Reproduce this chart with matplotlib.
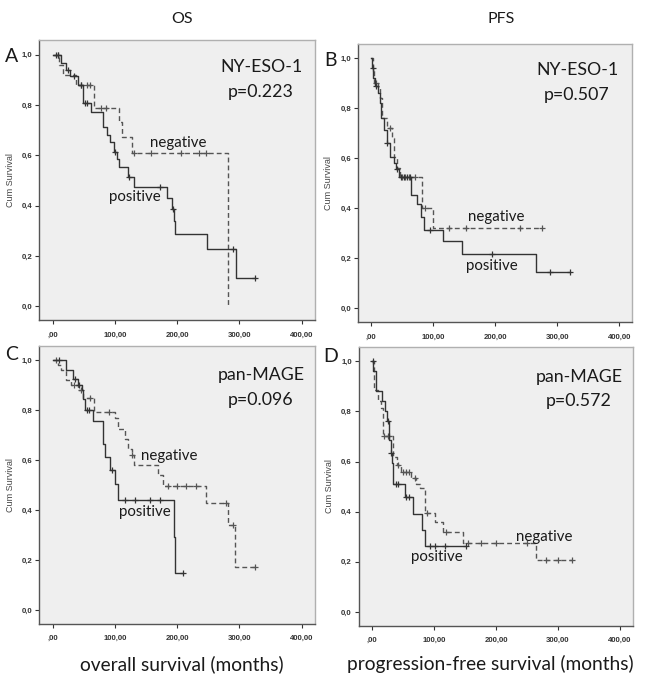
import numpy as np
import matplotlib
matplotlib.use("Agg")
import matplotlib.pyplot as plt

# ---------------- data ----------------
# Panel A : OS, NY-ESO-1
a_pos_t = [0, 14, 22, 28, 40, 49, 62, 81, 87, 92, 99, 103, 106, 121, 131, 183, 191, 195, 197, 248, 294, 325]
a_pos_s = [1.0, 0.967, 0.94, 0.913, 0.88, 0.807, 0.773, 0.714, 0.681, 0.654, 0.614, 0.585, 0.555, 0.515, 0.475, 0.432, 0.387, 0.340, 0.286, 0.227, 0.111, 0.111]
a_pos_c = [5, 8, 25, 35, 45, 52, 55, 100, 122, 172, 193, 290, 325]
a_neg_t = [0, 10, 17, 38, 67, 107, 111, 127, 282]
a_neg_s = [1.0, 0.958, 0.919, 0.88, 0.787, 0.734, 0.672, 0.608, 0.0]
a_neg_c = [8, 45, 55, 60, 78, 85, 130, 158, 206, 235, 246]

# Panel B : PFS, NY-ESO-1
b_pos_t = [0, 1, 3, 6, 11, 14, 16, 20, 25, 30, 37, 40, 45, 64, 74, 80, 85, 115, 146, 265, 321]
b_pos_s = [1.0, 0.96, 0.92, 0.89, 0.86, 0.82, 0.76, 0.713, 0.66, 0.606, 0.58, 0.556, 0.524, 0.453, 0.417, 0.366, 0.313, 0.269, 0.216, 0.145, 0.145]
b_pos_c = [2, 8, 26, 41, 48, 52, 58, 62, 95, 194, 289, 321]
b_neg_t = [0, 2, 5, 10, 14, 17, 25, 33, 36, 41, 47, 82, 100, 275]
b_neg_s = [1.0, 0.95, 0.90, 0.88, 0.84, 0.76, 0.72, 0.68, 0.606, 0.56, 0.524, 0.40, 0.32, 0.32]
b_neg_c = [8, 30, 50, 55, 60, 70, 87, 125, 152, 240, 275]

# Panel C : OS, pan-MAGE
c_pos_t = [0, 22, 33, 40, 47, 49, 52, 64, 81, 84, 92, 100, 105, 195, 197, 209]
c_pos_s = [1.0, 0.963, 0.927, 0.90, 0.88, 0.847, 0.803, 0.757, 0.667, 0.613, 0.56, 0.507, 0.44, 0.293, 0.147, 0.147]
c_pos_c = [10, 36, 42, 55, 58, 95, 116, 132, 156, 172, 209]
c_neg_t = [0, 9, 14, 22, 30, 41, 49, 67, 100, 105, 116, 121, 127, 130, 170, 178, 247, 281, 293, 325]
c_neg_s = [1.0, 0.98, 0.96, 0.92, 0.90, 0.88, 0.85, 0.793, 0.771, 0.727, 0.687, 0.647, 0.62, 0.58, 0.54, 0.497, 0.427, 0.34, 0.171, 0.171]
c_neg_c = [5, 35, 45, 60, 90, 127, 185, 200, 215, 230, 278, 290, 325]

# Panel D : PFS, pan-MAGE
d_pos_t = [0, 2, 7, 16, 21, 24, 27, 30, 33, 34, 53, 66, 81, 85, 152]
d_pos_s = [1.0, 0.96, 0.88, 0.84, 0.80, 0.76, 0.687, 0.634, 0.594, 0.512, 0.459, 0.392, 0.328, 0.262, 0.262]
d_pos_c = [1, 26, 31, 38, 42, 55, 60, 93, 101, 117, 152]
d_neg_t = [0, 3, 10, 15, 18, 34, 40, 47, 63, 71, 77, 85, 101, 114, 146, 264, 322]
d_neg_s = [1.0, 0.887, 0.84, 0.813, 0.70, 0.62, 0.587, 0.56, 0.534, 0.51, 0.494, 0.395, 0.357, 0.317, 0.275, 0.206, 0.206]
d_neg_c = [20, 25, 28, 42, 50, 55, 60, 70, 88, 120, 155, 175, 200, 250, 280, 300, 322]

markers = ["NY-ESO-1", "NY-ESO-1", "pan-MAGE", "pan-MAGE"]
pvalues = ["p=0.223", "p=0.507", "p=0.096", "p=0.572"]
letters = ["A", "B", "C", "D"]
col_titles = ["OS", "PFS"]
x_labels = ["overall survival (months)", "progression-free survival (months)"]
x_ticks = [0, 100, 200, 300, 400]
x_ticklabels = [",00", "100,00", "200,00", "300,00", "400,00"]
y_ticks = [0.0, 0.2, 0.4, 0.6, 0.8, 1.0]
y_ticklabels = ["0,0", "0,2", "0,4", "0,6", "0,8", "1,0"]

panels = [
    (a_pos_t, a_pos_s, a_pos_c, a_neg_t, a_neg_s, a_neg_c),
    (b_pos_t, b_pos_s, b_pos_c, b_neg_t, b_neg_s, b_neg_c),
    (c_pos_t, c_pos_s, c_pos_c, c_neg_t, c_neg_s, c_neg_c),
    (d_pos_t, d_pos_s, d_pos_c, d_neg_t, d_neg_s, d_neg_c),
]

# ---------------- layout ----------------
W, H = 645, 683
fig = plt.figure(figsize=(W / 100, H / 100), dpi=100)
fig.patch.set_facecolor("white")

def box(x0, y0, x1, y1):
    return [x0 / W, 1 - y1 / H, (x1 - x0) / W, (y1 - y0) / H]

rects = [box(39.3, 40, 315, 320.3), box(358, 43.5, 632, 322.3),
         box(39.3, 346, 315, 624), box(358.7, 346.7, 632.7, 626)]
xlims = [(-21.5, 421.5), (-21.5, 420.5), (-21.5, 421.5), (-21.5, 420.5)]

# text positions (px)
mk_pos = [(261, 67), (577, 70), (261, 375), (579, 377)]
p_pos = [(261, 92), (577, 95), (261, 400), (579, 401)]
neg_pos = [(178, 143), (496, 217), (169, 456), (544, 537)]
pos_pos = [(135, 197), (492, 266), (145, 512), (437, 557)]
let_pos = [(12, 57), (330, 60), (12, 354), (331, 356)]

def surv_at(t, s, c):
    t = np.asarray(t, float)
    s = np.asarray(s, float)
    idx = np.searchsorted(t, np.asarray(c, float), side="right") - 1
    return s[np.clip(idx, 0, len(s) - 1)]

LBL = "Lato"
TXT = "#1a1a1a"
for i, (rect, data) in enumerate(zip(rects, panels)):
    ax = fig.add_axes(rect)
    ax.set_facecolor("#efefef")
    pt, ps, pc, nt, ns, nc = data
    ax.step(nt, ns, where="post", color="#555555", lw=1.0, ls=(0, (3.5, 2.2)))
    ax.plot(nc, surv_at(nt, ns, nc), ls="none", marker="+", ms=4, mew=0.9, color="#555555")
    ax.step(pt, ps, where="post", color="#333333", lw=1.0)
    ax.plot(pc, surv_at(pt, ps, pc), ls="none", marker="+", ms=4, mew=0.9, color="#333333")
    ax.set_xlim(*xlims[i])
    ax.set_ylim(-0.056, 1.058)
    ax.set_xticks(x_ticks)
    ax.set_xticklabels(x_ticklabels)
    ax.set_yticks(y_ticks)
    ax.set_yticklabels(y_ticklabels)
    ax.tick_params(axis="both", labelsize=5.6, length=3, width=0.8, color="#333333", pad=2)
    for lab in ax.get_xticklabels() + ax.get_yticklabels():
        lab.set_fontweight("bold")
        lab.set_color("#333333")
        lab.set_family("Liberation Sans")
    ax.tick_params(axis="x", pad=5)
    for side in ["left", "bottom"]:
        ax.spines[side].set_color("#555555")
        ax.spines[side].set_linewidth(1.0)
    for side in ["top", "right"]:
        ax.spines[side].set_color("#b0b0b0")
        ax.spines[side].set_linewidth(1.0)
    ax.set_ylabel("Cum Survival", fontsize=6.5, family="Liberation Sans", color="#444444", labelpad=5)

    fig.text(mk_pos[i][0] / W, 1 - mk_pos[i][1] / H, markers[i], ha="center", va="center",
             fontsize=12.8, family=LBL, color=TXT)
    fig.text(p_pos[i][0] / W, 1 - p_pos[i][1] / H, pvalues[i], ha="center", va="center",
             fontsize=12.8, family=LBL, color=TXT)
    fig.text(neg_pos[i][0] / W, 1 - neg_pos[i][1] / H, "negative", ha="center", va="center",
             fontsize=10.8, family=LBL, color=TXT)
    fig.text(pos_pos[i][0] / W, 1 - pos_pos[i][1] / H, "positive", ha="center", va="center",
             fontsize=10.8, family=LBL, color=TXT)
    fig.text(let_pos[i][0] / W, 1 - let_pos[i][1] / H, letters[i], ha="center", va="center",
             fontsize=14, family=LBL, color=TXT)

fig.text(182 / W, 1 - 19 / H, col_titles[0], ha="center", va="center", fontsize=11.5, family=LBL, color=TXT)
fig.text(501 / W, 1 - 19 / H, col_titles[1], ha="center", va="center", fontsize=11.5, family=LBL, color=TXT)
fig.text(182 / W, 1 - 664 / H, x_labels[0], ha="center", va="center", fontsize=13.8, family=LBL, color=TXT)
fig.text(490 / W, 1 - 664 / H, x_labels[1], ha="center", va="center", fontsize=13.8, family=LBL, color=TXT)

fig.savefig("out.png", dpi=100)
